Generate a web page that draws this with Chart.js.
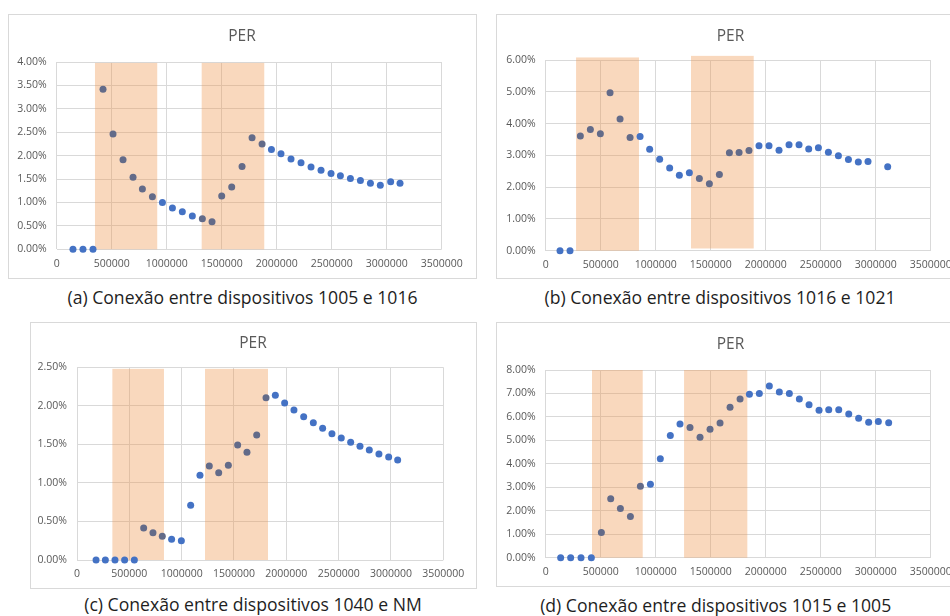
<!DOCTYPE html>
<html><head><meta charset="utf-8">
<script src="https://cdn.jsdelivr.net/npm/chart.js@4"></script>
<style>
html,body{margin:0;padding:0;background:#fff;width:950px;height:616px;overflow:hidden;position:relative;font-family:'Open Sans',sans-serif;}
.box{position:absolute;border:1px solid #d9d9d9;box-sizing:border-box;}
.box canvas{position:absolute;left:0;top:0;}
.ttl{position:absolute;font-size:15.5px;color:#595959;transform:translate(-50%,-50%);white-space:nowrap;}
.cap{position:absolute;font-size:17.6px;color:#1e1e1e;transform:translate(-50%,-50%);white-space:nowrap;}
</style></head><body>
<script>
// ---------- data ----------
const chartTitle = 'PER';
const xMax = 3500000, xStep = 500000;

// (a) Conexão entre dispositivos 1005 e 1016
const aCaption = '(a) Conexão entre dispositivos 1005 e 1016';
const aX = [148000,239000,330000,421000,512000,603000,694000,779000,870000,961000,1052000,1142000,1233000,1324000,1412000,1500000,1591000,1685000,1776000,1867000,1952000,2039000,2130000,2221000,2312000,2403000,2494000,2579000,2670000,2761000,2852000,2942000,3036000,3121000];
const aY = [0,0,0,3.42,2.46,1.91,1.54,1.29,1.12,1.00,0.88,0.80,0.71,0.65,0.59,1.14,1.33,1.77,2.38,2.25,2.13,2.04,1.93,1.85,1.76,1.69,1.62,1.57,1.51,1.47,1.41,1.37,1.44,1.41];
const aYMax = 4, aYStep = 0.5;
const aRegions = [[348000,914000,0,3.98],[1318000,1887000,0,3.98]];

// (b) Conexão entre dispositivos 1016 e 1021
const bCaption = '(b) Conexão entre dispositivos 1016 e 1021';
const bX = [130000,221000,315000,406000,497000,585000,676000,767000,858000,945000,1036000,1127000,1215000,1306000,1397000,1488000,1579000,1670000,1758000,1848000,1939000,2030000,2121000,2212000,2303000,2391000,2479000,2570000,2661000,2752000,2842000,2930000,3109000];
const bY = [0,0,3.61,3.81,3.68,4.97,4.14,3.56,3.59,3.19,2.88,2.60,2.37,2.45,2.27,2.11,2.40,3.08,3.09,3.15,3.30,3.30,3.16,3.33,3.33,3.20,3.24,3.10,2.99,2.87,2.79,2.81,2.64];
const bYMax = 6, bYStep = 1;
const bRegions = [[276000,848000,0,6.08],[1321000,1891000,0.07,6.13]];

// (c) Conexão entre dispositivos 1040 e NM
const cCaption = '(c) Conexão entre dispositivos 1040 e NM';
const cX = [182000,271000,363000,455000,548000,637000,726000,815000,904000,997000,1086000,1175000,1264000,1354000,1446000,1535000,1624000,1717000,1806000,1895000,1984000,2073000,2166000,2258000,2347000,2436000,2525000,2615000,2704000,2793000,2885000,2978000,3064000];
const cY = [0,0,0,0,0,0.415,0.355,0.307,0.268,0.251,0.709,1.099,1.220,1.133,1.228,1.492,1.397,1.622,2.106,2.137,2.037,1.946,1.860,1.782,1.708,1.639,1.583,1.527,1.475,1.427,1.375,1.336,1.298];
const cYMax = 2.5, cYStep = 0.5;
const cRegions = [[338000,831000,0,2.48],[1223000,1825000,0,2.48]];

// (d) Conexão entre dispositivos 1015 e 1005
const dCaption = '(d) Conexão entre dispositivos 1015 e 1005';
const dX = [136000,227000,321000,415000,506000,591000,679000,770000,861000,952000,1042000,1133000,1221000,1312000,1403000,1494000,1585000,1676000,1767000,1852000,1942000,2033000,2124000,2215000,2306000,2394000,2485000,2573000,2664000,2755000,2845000,2936000,3024000,3118000];
const dY = [0,0,0,0,1.07,2.51,2.10,1.76,3.04,3.13,4.22,5.21,5.70,5.55,5.13,5.48,5.74,6.41,6.76,6.97,7.00,7.32,7.06,7.00,6.76,6.52,6.28,6.31,6.31,6.12,5.94,5.77,5.81,5.75];
const dYMax = 8, dYStep = 1;
const dRegions = [[421000,882000,0,8],[1258000,1833000,0,8]];

// ---------- layout / style ----------
const panels = [
  {x:aX, y:aY, yMax:aYMax, yStep:aYStep, regions:aRegions, caption:aCaption,
   box:{x:8,y:14,w:469,h:265}, plot:{l:56.7,t:62,r:441.7,b:249.3}, title:{x:242,y:35}, cap:{x:242.5,y:297}},
  {x:bX, y:bY, yMax:bYMax, yStep:bYStep, regions:bRegions, caption:bCaption,
   box:{x:496,y:14,w:469,h:265}, plot:{l:545.7,t:60,r:930.7,b:250.7}, title:{x:730.5,y:35}, cap:{x:720,y:297}},
  {x:cX, y:cY, yMax:cYMax, yStep:cYStep, regions:cRegions, caption:cCaption,
   box:{x:30,y:322,w:447,h:267}, plot:{l:77,t:367.3,r:443.3,b:560}, title:{x:253,y:342}, cap:{x:253,y:604}},
  {x:dX, y:dY, yMax:dYMax, yStep:dYStep, regions:dRegions, caption:dCaption,
   box:{x:496,y:322,w:469,h:265}, plot:{l:545.7,t:370,r:930.7,b:557.7}, title:{x:730.5,y:343}, cap:{x:715.7,y:605}}
];

const BLUE = '#4472C4', GRAY = '#636b89', SHADE = 'rgba(240,150,75,0.37)';
const GRID = '#d9d9d9', TICK = '#595959';
const YW = 40, XH = 24;

Chart.defaults.font.family = "'Open Sans', sans-serif";

function inRegion(regs, px, py){
  return regs.some(r => px >= r[0] && px <= r[1] && py > r[2]);
}

function addText(cls, txt, pos){
  const d = document.createElement('div');
  d.className = cls; d.textContent = txt;
  d.style.left = pos.x + 'px'; d.style.top = pos.y + 'px';
  document.body.appendChild(d);
}

panels.forEach(p => {
  const box = document.createElement('div');
  box.className = 'box';
  Object.assign(box.style, {left:p.box.x+'px', top:p.box.y+'px', width:p.box.w+'px', height:p.box.h+'px'});
  const cw = p.box.w - 2, ch = p.box.h - 2;
  const cv = document.createElement('canvas');
  cv.width = cw; cv.height = ch; cv.style.width = cw+'px'; cv.style.height = ch+'px';
  box.appendChild(cv);
  document.body.appendChild(box);
  addText('ttl', chartTitle, p.title);
  addText('cap', p.caption, p.cap);

  const ox = p.box.x + 1, oy = p.box.y + 1;
  const pad = {left: p.plot.l - ox - YW, right: ox + cw - p.plot.r, top: p.plot.t - oy, bottom: oy + ch - p.plot.b - XH};

  const shade = {
    id: 'shade',
    beforeDatasetsDraw(chart){
      const {ctx, scales:{x, y}} = chart;
      ctx.save();
      ctx.fillStyle = SHADE;
      p.regions.forEach(r => {
        const x0 = x.getPixelForValue(r[0]), x1 = x.getPixelForValue(r[1]);
        const yTop = y.getPixelForValue(r[3]), yBot = y.getPixelForValue(r[2]);
        ctx.fillRect(x0, yTop, x1 - x0, yBot - yTop);
      });
      ctx.restore();
    }
  };

  new Chart(cv, {
    type: 'scatter',
    data: {datasets: [{
      data: p.x.map((xv, i) => ({x: xv, y: p.y[i]})),
      pointRadius: 3.5, pointHoverRadius: 3.5, pointBorderWidth: 0,
      pointBackgroundColor: ctx => (ctx.raw && inRegion(p.regions, ctx.raw.x, ctx.raw.y)) ? GRAY : BLUE,
      clip: false
    }]},
    options: {
      responsive: false, animation: false, devicePixelRatio: 1,
      layout: {padding: pad},
      events: [],
      plugins: {legend: {display: false}, tooltip: {enabled: false}, title: {display: false}},
      scales: {
        x: {type: 'linear', min: 0, max: xMax,
            ticks: {stepSize: xStep, padding: 8, color: TICK, font: {size: 10.5}, maxRotation: 0, autoSkip: false, callback: v => String(v)},
            grid: {color: GRID, drawTicks: false, lineWidth: 1}, border: {display: false},
            afterFit: s => { s.height = XH; }},
        y: {min: 0, max: p.yMax,
            ticks: {stepSize: p.yStep, padding: 10, color: TICK, font: {size: 10.5}, callback: v => Number(v).toFixed(2) + '%'},
            grid: {color: GRID, drawTicks: false, lineWidth: 1}, border: {display: false},
            afterFit: s => { s.width = YW; }}
      }
    },
    plugins: [shade]
  });
});
</script>
</body></html>
